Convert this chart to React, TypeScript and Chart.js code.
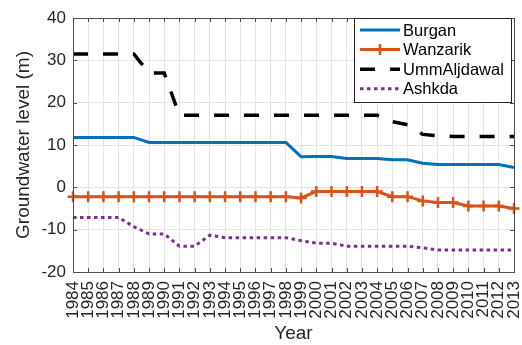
import React, { useEffect, useRef } from "react";
import { Chart, registerables } from "chart.js";

Chart.register(...registerables);

// Annual groundwater levels (m) per well field, 1984–2013
const years = [
  "1984", "1985", "1986", "1987", "1988", "1989", "1990", "1991", "1992", "1993",
  "1994", "1995", "1996", "1997", "1998", "1999", "2000", "2001", "2002", "2003",
  "2004", "2005", "2006", "2007", "2008", "2009", "2010", "2011", "2012", "2013",
];

const burgan = [
  11.8, 11.8, 11.8, 11.8, 11.8, 10.6, 10.6, 10.6, 10.6, 10.6,
  10.6, 10.6, 10.6, 10.6, 10.6, 7.2, 7.3, 7.3, 6.8, 6.8,
  6.8, 6.5, 6.5, 5.7, 5.4, 5.4, 5.4, 5.4, 5.4, 4.7,
];

const wanzarik = [
  -2.2, -2.2, -2.2, -2.2, -2.2, -2.2, -2.2, -2.2, -2.2, -2.2,
  -2.2, -2.2, -2.2, -2.2, -2.2, -2.5, -1.0, -1.0, -1.0, -1.0,
  -1.0, -2.2, -2.2, -3.2, -3.6, -3.6, -4.4, -4.4, -4.4, -5.0,
];

const ummAljdawal = [
  31.5, 31.5, 31.5, 31.5, 31.5, 27, 27, 17, 17, 17,
  17, 17, 17, 17, 17, 17, 17, 17, 17, 17,
  17, 15.5, 14.8, 12.5, 12.2, 12, 12, 12, 12, 12,
];

const ashkda = [
  -7.1, -7.1, -7.1, -7.1, -9.3, -11.0, -11.0, -13.9, -13.9, -11.3,
  -11.9, -11.9, -11.9, -11.9, -11.9, -12.6, -13.2, -13.2, -13.9, -13.9,
  -13.9, -13.9, -13.9, -14.3, -14.8, -14.8, -14.8, -14.8, -14.8, -14.8,
];

const yTicks = [-20, -10, 0, 10, 20, 30, 40];

const FONT = '"Liberation Sans", Arial, Helvetica, sans-serif';
const AXIS_COLOR = "#4d4d4d";
const GRID_COLOR = "#e3e3e3";

// Box around the plot area plus inward tick marks on all four sides
const boxPlugin = {
  id: "axesBox",
  afterDatasetsDraw(chart: any) {
    const { ctx, chartArea: a, scales } = chart;
    ctx.save();
    ctx.strokeStyle = AXIS_COLOR;
    ctx.lineWidth = 1;
    const tl = 4;
    ctx.beginPath();
    scales.x.ticks.forEach((_: any, i: number) => {
      const x = Math.round(scales.x.getPixelForTick(i)) + 0.5;
      ctx.moveTo(x, a.bottom);
      ctx.lineTo(x, a.bottom - tl);
      ctx.moveTo(x, a.top);
      ctx.lineTo(x, a.top + tl);
    });
    scales.y.ticks.forEach((_: any, i: number) => {
      const y = Math.round(scales.y.getPixelForTick(i)) + 0.5;
      ctx.moveTo(a.left, y);
      ctx.lineTo(a.left + tl, y);
      ctx.moveTo(a.right, y);
      ctx.lineTo(a.right - tl, y);
    });
    ctx.stroke();
    ctx.strokeRect(
      Math.round(a.left) + 0.5,
      Math.round(a.top) + 0.5,
      Math.round(a.right - a.left),
      Math.round(a.bottom - a.top)
    );
    ctx.restore();
  },
};

// Legend box in the upper-right corner of the plot area
const legendPlugin = {
  id: "cornerLegend",
  afterDraw(chart: any) {
    const { ctx, chartArea: a } = chart;
    const boxW = 157;
    const boxH = 84;
    const x0 = a.right - boxW - 3;
    const y0 = a.top;
    ctx.save();
    ctx.fillStyle = "#ffffff";
    ctx.fillRect(x0, y0, boxW, boxH);
    ctx.strokeStyle = "#262626";
    ctx.lineWidth = 1;
    ctx.strokeRect(Math.round(x0) + 0.5, Math.round(y0) + 0.5, boxW, boxH);
    ctx.font = `16.5px ${FONT}`;
    ctx.textBaseline = "middle";
    ctx.textAlign = "left";
    chart.data.datasets.forEach((ds: any, i: number) => {
      const y = y0 + 12 + i * 19.6;
      const lx0 = x0 + 6;
      const lx1 = x0 + 46;
      ctx.save();
      ctx.strokeStyle = ds.borderColor;
      ctx.lineWidth = ds.borderWidth;
      ctx.setLineDash(ds.borderDash || []);
      ctx.beginPath();
      ctx.moveTo(lx0, y);
      ctx.lineTo(lx1, y);
      ctx.stroke();
      if (ds.pointStyle === "cross") {
        ctx.setLineDash([]);
        ctx.lineWidth = ds.pointBorderWidth;
        const cx = (lx0 + lx1) / 2;
        const r = ds.pointRadius;
        ctx.beginPath();
        ctx.moveTo(cx, y - r);
        ctx.lineTo(cx, y + r);
        ctx.moveTo(cx - r, y);
        ctx.lineTo(cx + r, y);
        ctx.stroke();
      }
      ctx.restore();
      ctx.fillStyle = "#000000";
      ctx.fillText(ds.label, lx1 + 3, y + 1);
    });
    ctx.restore();
  },
};

export default function App() {
  const canvasRef = useRef<HTMLCanvasElement | null>(null);

  useEffect(() => {
    if (!canvasRef.current) return;
    const chart = new Chart(canvasRef.current, {
      type: "line",
      data: {
        labels: years,
        datasets: [
          {
            label: "Burgan",
            data: burgan,
            borderColor: "#0072BD",
            backgroundColor: "#0072BD",
            borderWidth: 3,
            pointRadius: 0,
            tension: 0,
          },
          {
            label: "Wanzarik",
            data: wanzarik,
            borderColor: "#D95319",
            backgroundColor: "#D95319",
            borderWidth: 3,
            pointStyle: "cross",
            pointRadius: 5.5,
            pointBorderWidth: 2.5,
            pointBorderColor: "#D95319",
            tension: 0,
          },
          {
            label: "UmmAljdawal",
            data: ummAljdawal,
            borderColor: "#000000",
            backgroundColor: "#000000",
            borderWidth: 3.5,
            borderDash: [15, 15],
            borderCapStyle: "butt",
            pointRadius: 0,
            tension: 0,
          },
          {
            label: "Ashkda",
            data: ashkda,
            borderColor: "#7E2F8E",
            backgroundColor: "#7E2F8E",
            borderWidth: 3,
            borderDash: [3.5, 3.5],
            pointRadius: 0,
            tension: 0,
          },
        ],
      },
      options: {
        responsive: false,
        animation: false,
        devicePixelRatio: 1,
        layout: { padding: { left: 0, top: 18, right: 8, bottom: 0 } },
        plugins: {
          legend: { display: false },
          tooltip: { enabled: false },
        },
        scales: {
          x: {
            type: "category",
            offset: false,
            grid: { color: GRID_COLOR, drawTicks: false },
            border: { display: false },
            ticks: {
              autoSkip: false,
              minRotation: 90,
              maxRotation: 90,
              padding: 9,
              color: "#262626",
              font: { family: FONT, size: 17 },
            },
            title: {
              display: true,
              text: "Year",
              color: "#262626",
              padding: { top: 0, bottom: 0 },
              font: { family: FONT, size: 19 },
            },
            afterFit(scale: any) {
              scale.height = 73;
              scale.paddingLeft = 0;
              scale.paddingRight = 0;
            },
          },
          y: {
            type: "linear",
            min: -20,
            max: 40,
            afterBuildTicks(scale: any) {
              scale.ticks = yTicks.map((v) => ({ value: v }));
            },
            grid: { color: GRID_COLOR, drawTicks: false },
            border: { display: false },
            ticks: {
              padding: 7,
              color: "#262626",
              font: { family: FONT, size: 17 },
            },
            title: {
              display: true,
              text: "Groundwater level (m)",
              color: "#262626",
              padding: { top: 12, bottom: 0 },
              font: { family: FONT, size: 19 },
            },
            afterFit(scale: any) {
              scale.width = 73;
              scale.paddingTop = 0;
              scale.paddingBottom = 0;
            },
          },
        },
      },
      plugins: [boxPlugin, legendPlugin],
    } as any);
    return () => chart.destroy();
  }, []);

  return (
    <div style={{ position: "fixed", left: 0, top: 0, width: 522, height: 345, background: "#ffffff" }}>
      <canvas ref={canvasRef} width={522} height={345} style={{ display: "block" }} />
    </div>
  );
}
